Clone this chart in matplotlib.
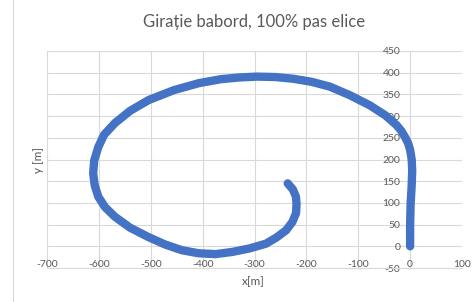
import matplotlib.pyplot as plt
from matplotlib.lines import Line2D

# traiectoria navei
x_m = [0, 0, 1, 3, 4, 3, 0, -4, -10, -17, -26, -48, -78, -116, -155, -190, -225,
       -260, -295, -330, -365, -407, -455, -504, -540, -569, -590, -601, -609,
       -611, -608, -601, -588, -569, -540, -504, -472, -440, -408, -375, -343,
       -310, -278, -258, -239, -227, -220, -219, -220, -226, -236]
y_m = [0, 50, 99, 140, 175, 200, 222, 238, 252, 266, 279, 302, 325, 348, 368, 379, 386,
       390, 391, 389, 385, 376, 360, 337, 312, 284, 257, 229, 198,
       168, 140, 114, 90, 68, 43, 21, 4, -9, -16, -18, -13,
       -5, 6, 20, 37, 56, 76, 96, 114, 131, 145]

x_ticks = list(range(-700, 101, 100))
y_ticks = list(range(-50, 451, 50))

plt.rcParams['font.family'] = ['Lato', 'DejaVu Sans']
plt.rcParams['axes.unicode_minus'] = False

fig = plt.figure(figsize=(4.72, 3.02), dpi=100)
ax = fig.add_axes([47/472, 1 - 268/302, 415/472, 217/302])

ax.plot(x_m, y_m, color='#4472C4', lw=6, solid_capstyle='round', solid_joinstyle='round', zorder=3)

ax.set_xlim(-700, 100)
ax.set_ylim(-50, 450)
ax.set_xticks(x_ticks)
ax.set_yticks(y_ticks)
ax.grid(True, color='#d9d9d9', lw=0.8)
ax.set_axisbelow(True)

for s in ['top', 'right']:
    ax.spines[s].set_visible(False)
ax.spines['left'].set_position(('data', 0))
ax.spines['left'].set_visible(False)
ax.spines['bottom'].set_color('#d9d9d9')
ax.spines['bottom'].set_linewidth(0.8)

ax.tick_params(axis='x', length=0, pad=-6, labelsize=7.5, labelcolor='#595959')
ax.tick_params(axis='y', length=0, pad=7, labelsize=7.5, labelcolor='#595959')

ax.set_title('Girație babord, 100% pas elice', fontsize=12, color='#595959', pad=17)
fig.text(253/472, 1 - 282/302, 'x[m]', ha='center', va='center', fontsize=8.5, color='#595959')
fig.text(38/472, 1 - 160/302, 'y [m]', ha='center', va='center', rotation=90, fontsize=8.5, color='#595959')

fig.add_artist(Line2D([13/472, 13/472], [0, 1], transform=fig.transFigure, color='#d9d9d9', lw=0.8))

fig.savefig('out.png', dpi=100)
